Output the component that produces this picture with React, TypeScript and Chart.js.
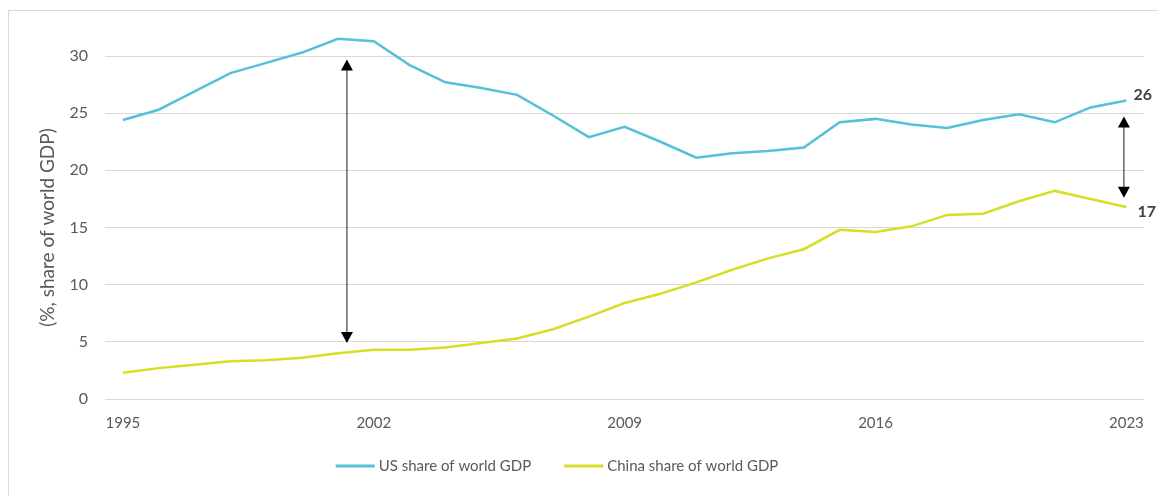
import React, { useEffect, useRef } from "react";
import { Chart, registerables } from "chart.js";

Chart.register(...registerables);

const years: string[] = [
  "1995", "1996", "1997", "1998", "1999", "2000", "2001", "2002", "2003", "2004",
  "2005", "2006", "2007", "2008", "2009", "2010", "2011", "2012", "2013", "2014",
  "2015", "2016", "2017", "2018", "2019", "2020", "2021", "2022", "2023",
];

const usShare: number[] = [
  24.4, 25.3, 26.9, 28.5, 29.4, 30.3, 31.5, 31.3, 29.2, 27.7,
  27.2, 26.6, 24.8, 22.9, 23.8, 22.5, 21.1, 21.5, 21.7, 22.0,
  24.2, 24.5, 24.0, 23.7, 24.4, 24.9, 24.2, 25.5, 26.1,
];

const chinaShare: number[] = [
  2.3, 2.7, 3.0, 3.3, 3.4, 3.6, 4.0, 4.3, 4.3, 4.5,
  4.9, 5.3, 6.1, 7.2, 8.4, 9.2, 10.2, 11.3, 12.3, 13.1,
  14.8, 14.6, 15.1, 16.1, 16.2, 17.3, 18.2, 17.5, 16.8,
];

const shownYearLabels: string[] = ["1995", "2002", "2009", "2016", "2023"];
const yTicks: number[] = [0, 5, 10, 15, 20, 25, 30];

const endLabels: string[] = ["26", "17"];

// gap arrows: category index position, top value, bottom value
const arrowIndex: number[] = [6.25, 27.93];
const arrowTop: number[] = [29.7, 24.7];
const arrowBottom: number[] = [4.9, 17.6];

const US_COLOR = "#55c1d8";
const CN_COLOR = "#d6de26";
const FONT = "Lato, 'Open Sans', sans-serif";
const TEXT_COLOR = "#595959";

const annotationPlugin = {
  id: "gapAnnotations",
  afterDatasetsDraw(chart: any) {
    const ctx = chart.ctx;
    const x = chart.scales.x;
    const y = chart.scales.y;
    ctx.save();
    for (let i = 0; i < arrowIndex.length; i++) {
      const px = x.getPixelForValue(arrowIndex[i]);
      const t = y.getPixelForValue(arrowTop[i]);
      const b = y.getPixelForValue(arrowBottom[i]);
      const head = 11;
      const hw = 6;
      ctx.strokeStyle = "#404040";
      ctx.fillStyle = "#000000";
      ctx.lineWidth = 1.2;
      ctx.beginPath();
      ctx.moveTo(px, t + head - 1);
      ctx.lineTo(px, b - head + 1);
      ctx.stroke();
      ctx.beginPath();
      ctx.moveTo(px, t);
      ctx.lineTo(px - hw, t + head);
      ctx.lineTo(px + hw, t + head);
      ctx.closePath();
      ctx.fill();
      ctx.beginPath();
      ctx.moveTo(px, b);
      ctx.lineTo(px - hw, b - head);
      ctx.lineTo(px + hw, b - head);
      ctx.closePath();
      ctx.fill();
    }
    const last = years.length - 1;
    const lx = x.getPixelForValue(last);
    ctx.font = `bold 16px ${FONT}`;
    ctx.fillStyle = "#404040";
    ctx.textBaseline = "middle";
    ctx.textAlign = "left";
    ctx.fillText(endLabels[0], lx + 7, y.getPixelForValue(usShare[last]) - 6);
    ctx.fillText(endLabels[1], lx + 11, y.getPixelForValue(chinaShare[last]) + 5);
    ctx.restore();
  },
  afterDraw(chart: any) {
    // legend: line sample + label for each dataset, centred below the axis
    const ctx = chart.ctx;
    const ds = chart.data.datasets;
    const lineW = 39;
    const gapText = 4;
    const gapItem = 33;
    ctx.save();
    ctx.font = `15px ${FONT}`;
    const widths = ds.map((d: any) => lineW + gapText + ctx.measureText(d.label).width);
    const total = widths.reduce((a: number, b: number) => a + b, 0) + gapItem * (ds.length - 1);
    const cy = chart.chartArea.bottom + 67;
    let cx = chart.width / 2 - 27 - total / 2;
    ds.forEach((d: any, i: number) => {
      ctx.fillStyle = d.borderColor;
      ctx.fillRect(cx, cy - 1.5, lineW, 3);
      ctx.fillStyle = TEXT_COLOR;
      ctx.textBaseline = "middle";
      ctx.textAlign = "left";
      ctx.fillText(d.label, cx + lineW + gapText, cy);
      cx += widths[i] + gapItem;
    });
    ctx.restore();
  },
};

export default function App() {
  const canvasRef = useRef<HTMLCanvasElement | null>(null);

  useEffect(() => {
    if (!canvasRef.current) return;
    const chart = new Chart(canvasRef.current, {
      type: "line",
      data: {
        labels: years,
        datasets: [
          {
            label: "US share of world GDP",
            data: usShare,
            borderColor: US_COLOR,
            backgroundColor: US_COLOR,
            borderWidth: 2.5,
            pointRadius: 0,
            tension: 0,
            clip: false as any,
          },
          {
            label: "China share of world GDP",
            data: chinaShare,
            borderColor: CN_COLOR,
            backgroundColor: CN_COLOR,
            borderWidth: 2.5,
            pointRadius: 0,
            tension: 0,
            clip: false as any,
          },
        ],
      },
      options: {
        responsive: false,
        animation: false,
        layout: { padding: { top: 45, right: 11, bottom: 46, left: 0 } },
        plugins: {
          legend: { display: false },
          tooltip: { enabled: false },
        },
        scales: {
          x: {
            offset: true,
            grid: { display: false, drawTicks: false },
            border: { display: false },
            afterFit: (s: any) => {
              s.height = 50;
            },
            ticks: {
              autoSkip: false,
              maxRotation: 0,
              padding: 15,
              color: TEXT_COLOR,
              font: { family: FONT, size: 15 },
              callback: function (this: any, _v: any, i: number) {
                const lab = years[i];
                return shownYearLabels.includes(lab) ? lab : "";
              },
            },
          },
          y: {
            min: 0,
            max: 30,
            afterFit: (s: any) => {
              s.width = 96;
            },
            afterBuildTicks: (s: any) => {
              s.ticks = yTicks.map((v) => ({ value: v }));
            },
            grid: { color: "#d9d9d9", lineWidth: 1, drawTicks: false },
            border: { display: false },
            ticks: {
              padding: 17,
              color: TEXT_COLOR,
              font: { family: FONT, size: 16 },
            },
            title: {
              display: true,
              text: "(%, share of world GDP)",
              color: TEXT_COLOR,
              font: { family: FONT, size: 19 },
              padding: { top: 27, bottom: 0 },
            },
          },
        },
      },
      plugins: [annotationPlugin],
    });
    return () => chart.destroy();
  }, []);

  return (
    <div
      style={{
        marginTop: 2,
        width: 1151,
        height: 485,
        borderTop: "1px solid #d9d9d9",
        borderLeft: "1px solid #d9d9d9",
        background: "#ffffff",
      }}
    >
      <canvas ref={canvasRef} width={1150} height={484} style={{ display: "block" }} />
    </div>
  );
}
